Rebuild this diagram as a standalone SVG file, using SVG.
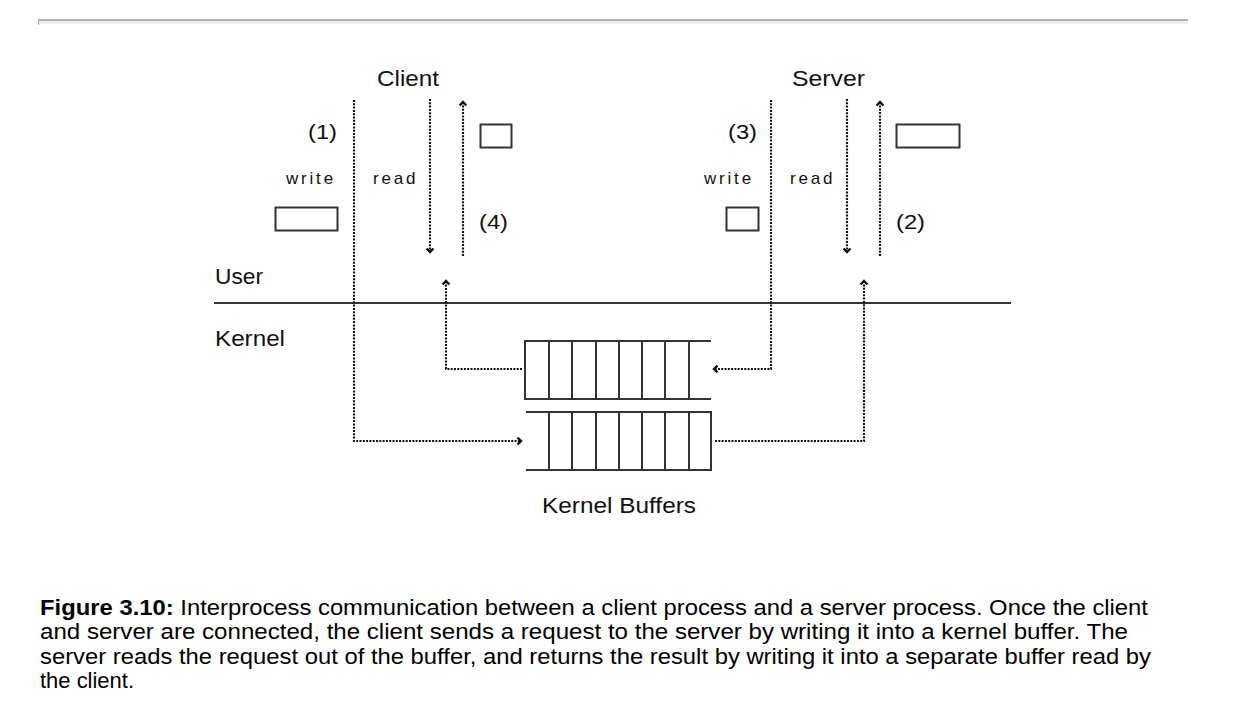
<svg xmlns="http://www.w3.org/2000/svg" width="1239" height="721" viewBox="0 0 1239 721">
<defs>
<style>
.lbl{font-family:"Liberation Sans",Arial,sans-serif;font-size:22px;fill:#111;}
.num{font-family:"Liberation Sans",Arial,sans-serif;font-size:21px;fill:#111;}
.op{font-family:"Liberation Sans",Arial,sans-serif;font-size:17px;fill:#111;letter-spacing:2.8px;}
.cap{font-family:"Liberation Sans",Arial,sans-serif;font-size:21.5px;fill:#000;}
.box{fill:none;stroke:#333;stroke-width:2;}
.buf{fill:none;stroke:#333;stroke-width:2;}
.dot{fill:none;stroke:#111;stroke-width:2.1;stroke-dasharray:2 1.3;}
</style>
<marker id="ah" markerUnits="userSpaceOnUse" markerWidth="12" markerHeight="12" viewBox="-6 -6 12 12" refX="0" refY="0" orient="auto">
<path d="M-3.5,-3.4 L0,0 L-3.5,3.4" fill="none" stroke="#111" stroke-width="2.4"/>
</marker>
</defs>
<rect width="1239" height="721" fill="#fff"/>
<g id="rule">
<rect x="38" y="19" width="1150" height="2" fill="#b0b0b0"/>
<rect x="38" y="21" width="1150" height="3" fill="#efefef"/>
<rect x="38" y="19" width="1" height="6" fill="#a8a8a8"/>
</g>
<g id="client-label"><text class="lbl" x="377" y="86" textLength="62" lengthAdjust="spacingAndGlyphs">Client</text></g>
<g id="server-label"><text class="lbl" x="792" y="86" textLength="73" lengthAdjust="spacingAndGlyphs">Server</text></g>
<g id="client-write">
<text class="num" x="308" y="139" textLength="29" lengthAdjust="spacingAndGlyphs">(1)</text>
<text class="op" x="286" y="184">write</text>
<rect class="box" x="275.5" y="207.5" width="62" height="23"/>
</g>
<g id="client-read">
<text class="op" x="373" y="184">read</text>
<text class="num" x="479" y="229" textLength="29" lengthAdjust="spacingAndGlyphs">(4)</text>
<rect class="box" x="480.5" y="124.5" width="31" height="23"/>
</g>
<g id="server-write">
<text class="num" x="728" y="139" textLength="29" lengthAdjust="spacingAndGlyphs">(3)</text>
<text class="op" x="704" y="184">write</text>
<rect class="box" x="726.5" y="207.5" width="32" height="23"/>
</g>
<g id="server-read">
<text class="op" x="790" y="184">read</text>
<text class="num" x="896" y="229" textLength="29" lengthAdjust="spacingAndGlyphs">(2)</text>
<rect class="box" x="896.5" y="124.5" width="63" height="23"/>
</g>
<g id="boundary">
<text class="lbl" x="215" y="284" textLength="48" lengthAdjust="spacingAndGlyphs">User</text>
<line x1="214" y1="303" x2="1011" y2="303" stroke="#333" stroke-width="2"/>
<text class="lbl" x="215" y="346" textLength="70" lengthAdjust="spacingAndGlyphs">Kernel</text>
</g>
<g id="buffer-top">
<path class="buf" d="M711,341 H525 V399 H711 M549,341 V399 M572,341 V399 M596,341 V399 M619,341 V399 M642,341 V399 M665,341 V399 M689,341 V399"/>
</g>
<g id="buffer-bottom">
<path class="buf" d="M526,412 H711 V470 H526 M549,412 V470 M572,412 V470 M596,412 V470 M619,412 V470 M642,412 V470 M665,412 V470 M689,412 V470"/>
</g>
<g id="kernel-buffers-label"><text class="lbl" x="542" y="513" textLength="154" lengthAdjust="spacingAndGlyphs">Kernel Buffers</text></g>
<g id="connectors">
<path class="dot" d="M354,100 V441 H521" marker-end="url(#ah)"/>
<path class="dot" d="M430,99 V252" marker-end="url(#ah)"/>
<path class="dot" d="M463,256 V102" marker-end="url(#ah)"/>
<path class="dot" d="M522,369 H446 V281" marker-end="url(#ah)"/>
<path class="dot" d="M771,100 V369 H714" marker-end="url(#ah)"/>
<path class="dot" d="M847,99 V252" marker-end="url(#ah)"/>
<path class="dot" d="M880,256 V102" marker-end="url(#ah)"/>
<path class="dot" d="M715,441 H864 V281" marker-end="url(#ah)"/>
</g>
<g id="caption">
<text class="cap" x="40" y="615" textLength="1108" lengthAdjust="spacingAndGlyphs"><tspan font-weight="bold">Figure 3.10:</tspan> Interprocess communication between a client process and a server process. Once the client</text>
<text class="cap" x="40" y="639" textLength="1088" lengthAdjust="spacingAndGlyphs">and server are connected, the client sends a request to the server by writing it into a kernel buffer. The</text>
<text class="cap" x="40" y="664" textLength="1111" lengthAdjust="spacingAndGlyphs">server reads the request out of the buffer, and returns the result by writing it into a separate buffer read by</text>
<text class="cap" x="40" y="688" textLength="94" lengthAdjust="spacingAndGlyphs">the client.</text>
</g>
</svg>
